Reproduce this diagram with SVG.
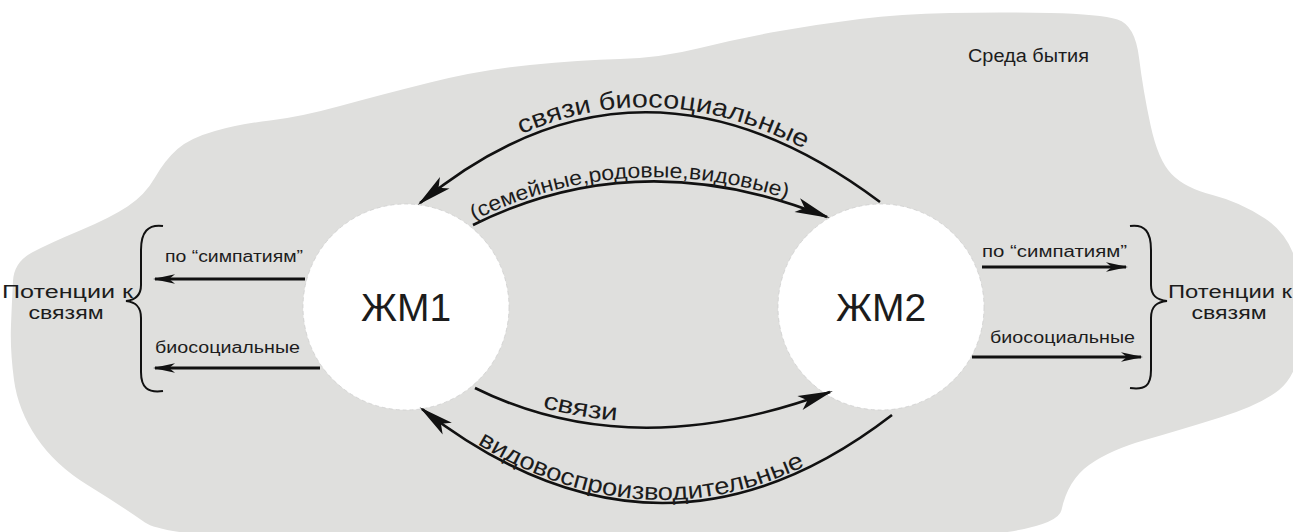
<svg xmlns="http://www.w3.org/2000/svg" width="1293" height="532" viewBox="0 0 1293 532">
<style>
.t{font-family:"Liberation Sans",Arial,sans-serif;fill:#1c1c1c}
.conn{fill:none;stroke:#111;stroke-width:2.6}
.str{fill:none;stroke:#111;stroke-width:3}
.brace{fill:none;stroke:#111;stroke-width:2}
.node{fill:#fff;stroke:#cdcdcd;stroke-width:0.7;stroke-dasharray:4 3}
</style>
<defs>
<marker id="big" viewBox="-40 -10 46 20" refX="-3" refY="0" markerWidth="46" markerHeight="20" markerUnits="userSpaceOnUse" orient="auto">
<path d="M0,0 L-35,-7.5 L-27,0 L-35,7.5 Z" fill="#111"/>
</marker>
<marker id="small" viewBox="-26 -7 30 14" refX="-2" refY="0" markerWidth="30" markerHeight="14" markerUnits="userSpaceOnUse" orient="auto">
<path d="M0,0 L-22,-4.8 L-16,0 L-22,4.8 Z" fill="#111"/>
</marker>
<path id="tp1" d="M420,198 Q640,17 880,197"/>
<path id="tp2" d="M473,221 Q640,138 827,213"/>
<path id="tp3" d="M475,382 C580,434 700,434 830,386"/>
<path id="tp4" d="M422,406 Q660,591 892,412"/>
</defs>
<g id="environment">
<path fill="#dfdfdd" d="M13,281 Q14,262 32,252.5 Q50,243 80,230.5 Q110,218 127.5,206.5 Q145,195 155,177.5 Q165,160 177.5,149 Q190,138 215,131 Q240,124 270,120.5 Q300,117 340,106 Q380,95 430,82.5 Q480,70 530,65 Q580,60 620,59 Q660,58 700,48 Q740,38 780,31 Q820,24 860,19 Q900,14 950,13 Q1000,12 1050,13 Q1100,14 1117.5,19.5 Q1135,25 1139,57.5 Q1143,90 1150.5,125 Q1158,160 1171.5,174 Q1185,188 1212.5,195 Q1240,202 1265,218.5 Q1290,235 1297.5,267.5 Q1305,300 1301.5,337.5 Q1298,375 1279,390 Q1260,405 1220,417.5 Q1180,430 1145,440 Q1110,450 1089,465 Q1068,480 1061.5,510 Q1055,540 827.5,542.5 Q600,545 385,542.5 Q170,540 145,522.5 Q120,505 87.5,485 Q55,465 36.5,437.5 Q18,410 14,380 Q10,350 11,325 Q12,300 13,281 Z"/>
<text class="t" x="968" y="62" font-size="18" textLength="121" lengthAdjust="spacingAndGlyphs">Среда бытия</text>
</g>
<g id="node-zm1">
<circle class="node" cx="406" cy="307" r="103"/>
<text class="t" x="406" y="321" font-size="39" text-anchor="middle">ЖМ1</text>
</g>
<g id="node-zm2">
<circle class="node" cx="881" cy="307" r="103"/>
<text class="t" x="881" y="321" font-size="39" text-anchor="middle">ЖМ2</text>
</g>
<g id="connectors">
<path class="conn" d="M880,202 Q640,22 420,203" marker-end="url(#big)"/>
<path class="conn" d="M473,225 Q640,142 827,217" marker-end="url(#big)"/>
<path class="conn" d="M475,388 C580,440 700,440 830,392" marker-end="url(#big)"/>
<path class="conn" d="M892,415 Q660,594 422,409" marker-end="url(#big)"/>
<line class="str" x1="305" y1="279" x2="155" y2="279" marker-end="url(#small)"/>
<line class="str" x1="320" y1="368" x2="155" y2="368" marker-end="url(#small)"/>
<line class="str" x1="982" y1="267" x2="1126" y2="267" marker-end="url(#small)"/>
<line class="str" x1="972" y1="357" x2="1141" y2="357" marker-end="url(#small)"/>
<text class="t" font-size="25"><textPath href="#tp1" startOffset="120" textLength="294" lengthAdjust="spacingAndGlyphs">связи биосоциальные</textPath></text>
<text class="t" font-size="21"><textPath href="#tp2" startOffset="1" textLength="322" lengthAdjust="spacingAndGlyphs">(семейные,родовые,видовые)</textPath></text>
<text class="t" font-size="24"><textPath href="#tp3" startOffset="72" textLength="76" lengthAdjust="spacingAndGlyphs">связи</textPath></text>
<text class="t" font-size="24"><textPath href="#tp4" startOffset="67" textLength="344" lengthAdjust="spacingAndGlyphs">видовоспроизводительные</textPath></text>
<text class="t" x="165" y="262" font-size="16" textLength="138" lengthAdjust="spacingAndGlyphs">по “симпатиям”</text>
<text class="t" x="155" y="353" font-size="16" textLength="145" lengthAdjust="spacingAndGlyphs">биосоциальные</text>
<text class="t" x="982" y="257" font-size="16" textLength="145" lengthAdjust="spacingAndGlyphs">по “симпатиям”</text>
<text class="t" x="990" y="343" font-size="16" textLength="145" lengthAdjust="spacingAndGlyphs">биосоциальные</text>
</g>
<g id="potentials-left">
<path class="brace" d="M163,226 C148,224 141,232 141,250 L141,285 C141,296 135,300 126,301 C135,302 141,306 141,318 L141,372 C141,388 148,393 163,391"/>
<text class="t" x="2" y="298" font-size="18" textLength="131" lengthAdjust="spacingAndGlyphs">Потенции к</text>
<text class="t" x="66" y="319" font-size="18" text-anchor="middle" textLength="75" lengthAdjust="spacingAndGlyphs">связям</text>
</g>
<g id="potentials-right">
<path class="brace" d="M1130,226 C1145,224 1151,232 1151,250 L1151,285 C1151,296 1157,300 1167,301 C1157,302 1151,306 1151,318 L1151,370 C1151,386 1145,390 1130,388"/>
<text class="t" x="1168" y="298" font-size="18" textLength="124" lengthAdjust="spacingAndGlyphs">Потенции к</text>
<text class="t" x="1229" y="319" font-size="18" text-anchor="middle" textLength="75" lengthAdjust="spacingAndGlyphs">связям</text>
</g>
</svg>
